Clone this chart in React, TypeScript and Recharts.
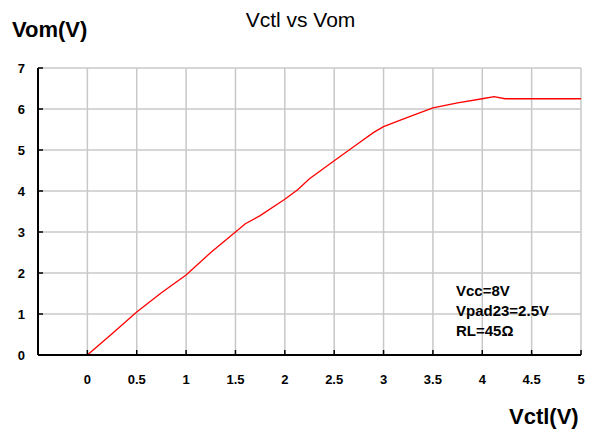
import React from 'react';
import {
  LineChart,
  Line,
  XAxis,
  YAxis,
  CartesianGrid,
} from 'recharts';

// Vctl (V) sample points and the measured Vom (V) at each
const vctl = [0, 0.25, 0.5, 0.75, 1, 1.25, 1.5, 1.6, 1.75, 2, 2.13, 2.25, 2.5, 2.75, 2.9, 3, 3.25, 3.5, 3.75, 4, 4.12, 4.23, 4.5, 5];
const vom = [0, 0.52, 1.05, 1.52, 1.95, 2.5, 3.0, 3.2, 3.4, 3.8, 4.03, 4.3, 4.74, 5.17, 5.43, 5.57, 5.8, 6.03, 6.15, 6.25, 6.3, 6.25, 6.25, 6.25];

const xTicks = [-0.5, 0, 0.5, 1, 1.5, 2, 2.5, 3, 3.5, 4, 4.5, 5];
const yTicks = [0, 1, 2, 3, 4, 5, 6, 7];
const notes = ['Vcc=8V', 'Vpad23=2.5V', 'RL=45Ω'];

const data = vctl.map((x, i) => ({ x, y: vom[i] }));

const FONT = '"Liberation Sans", Arial, Helvetica, sans-serif';

export default function App() {
  return (
    <div
      style={{
        position: 'absolute',
        left: 0,
        top: 0,
        width: 589,
        height: 432,
        background: '#fff',
        fontFamily: FONT,
      }}
    >
      <LineChart
        width={589}
        height={432}
        data={data}
        margin={{ top: 68, right: 8, left: 0, bottom: 0 }}
      >
        <CartesianGrid stroke="#c8c8c8" strokeWidth={1.5} />
        <XAxis
          dataKey="x"
          type="number"
          domain={[-0.5, 5]}
          ticks={xTicks}
          height={77}
          interval={0}
          axisLine={{ stroke: '#000', strokeWidth: 2 }}
          tickLine={{ stroke: '#000', strokeWidth: 1.5 }}
          tickSize={-5}
          tickMargin={25}
          tickFormatter={(v: number) => (v < 0 ? '' : String(v))}
          tick={{ fill: '#000', fontSize: 13, fontWeight: 'bold', fontFamily: FONT }}
        />
        <YAxis
          type="number"
          domain={[0, 7]}
          ticks={yTicks}
          width={38}
          interval={0}
          axisLine={{ stroke: '#000', strokeWidth: 2 }}
          tickLine={{ stroke: '#000', strokeWidth: 1.5 }}
          tickSize={-5}
          tickMargin={18}
          tick={{ fill: '#000', fontSize: 13, fontWeight: 'bold', fontFamily: FONT }}
        />
        <Line
          type="linear"
          dataKey="y"
          stroke="#ff0000"
          strokeWidth={1.3}
          dot={false}
          isAnimationActive={false}
        />
      </LineChart>

      <div
        style={{
          position: 'absolute',
          left: 200,
          width: 201,
          top: 9,
          textAlign: 'center',
          fontSize: 21,
          lineHeight: 1,
        }}
      >
        Vctl vs Vom
      </div>
      <div
        style={{
          position: 'absolute',
          left: 12,
          top: 19,
          fontSize: 22,
          fontWeight: 'bold',
          lineHeight: 1,
        }}
      >
        Vom(V)
      </div>
      <div
        style={{
          position: 'absolute',
          left: 509,
          top: 406,
          fontSize: 22,
          fontWeight: 'bold',
          lineHeight: 1,
        }}
      >
        Vctl(V)
      </div>
      <div
        style={{
          position: 'absolute',
          left: 456,
          top: 281,
          fontSize: 15,
          fontWeight: 'bold',
          lineHeight: '20px',
        }}
      >
        {notes.map((n) => (
          <div key={n}>{n}</div>
        ))}
      </div>
    </div>
  );
}
